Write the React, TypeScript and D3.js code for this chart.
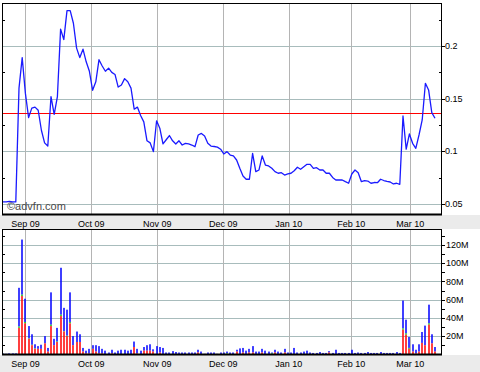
import React from "react";
import * as d3 from "d3";

// ---- Data ----
const monthLabels = ["Sep 09", "Oct 09", "Nov 09", "Dec 09", "Jan 10", "Feb 10", "Mar 10"];
const monthTickIdx = [7, 27.6, 48.2, 68.8, 89.3, 108.8, 127.3];

const priceTicks = [0.05, 0.1, 0.15, 0.2];
const priceTickLabels = ["0.05", "0.1", "0.15", "0.2"];
const priceMinorTicks = [0.075, 0.125, 0.175, 0.225];
const lastPrice = 0.1361;

const volTicks = [20, 40, 60, 80, 100, 120];
const volTickLabels = ["20M", "40M", "60M", "80M", "100M", "120M"];
const volMinorTicks = [10, 30, 50, 70, 90, 110, 130];

const prices = [
  0.052, 0.052, 0.0525, 0.052, 0.052, 0.160, 0.189, 0.155, 0.132, 0.141,
  0.142, 0.139, 0.120, 0.108, 0.105, 0.152, 0.135, 0.152, 0.216, 0.206,
  0.2336, 0.2336, 0.2216, 0.198, 0.189, 0.197, 0.185, 0.176, 0.158, 0.166,
  0.187, 0.181, 0.176, 0.179, 0.175, 0.173, 0.161, 0.163, 0.169, 0.166,
  0.160, 0.140, 0.142, 0.134, 0.128, 0.110, 0.108, 0.0997, 0.129, 0.122,
  0.107, 0.111, 0.115, 0.110, 0.107, 0.110, 0.106, 0.1076, 0.107, 0.106,
  0.1044, 0.1155, 0.117, 0.1146, 0.1076, 0.105, 0.1046, 0.104, 0.102, 0.0975,
  0.0997, 0.0965, 0.0956, 0.0918, 0.0839, 0.0766, 0.0735, 0.0735, 0.0981, 0.0807,
  0.0823, 0.0956, 0.0870, 0.0861, 0.0839, 0.0807, 0.0792, 0.0797, 0.0775, 0.0785,
  0.0792, 0.0816, 0.0849, 0.0830, 0.0854, 0.0877, 0.0877, 0.0839, 0.0845, 0.0823,
  0.0823, 0.0792, 0.0792, 0.0752, 0.0728, 0.0728, 0.0728, 0.0712, 0.0697, 0.0785,
  0.0823, 0.0797, 0.0712, 0.0721, 0.0718, 0.0697, 0.0704, 0.0702, 0.0735, 0.0723,
  0.0714, 0.0709, 0.0690, 0.0697, 0.0687, 0.1336, 0.102, 0.1165, 0.1076, 0.1029,
  0.1155, 0.1298, 0.1646, 0.1583, 0.1367, 0.1314,
];

// volume in millions
const volTotal = [
  1, 0.5, 1, 1, 1, 73, 126, 61, 31, 22,
  11, 9, 10.5, 20, 7, 68, 17, 29, 95, 51,
  49, 68, 20, 25, 22, 7, 4, 6, 10, 10,
  9, 6, 4, 2, 5, 2, 4, 5, 5, 4,
  5, 14, 6, 4, 8, 10, 11, 5.5, 9, 8,
  7, 2, 2, 3.5, 2.5, 2, 2, 2, 2, 2,
  2, 5, 3, 0.5, 2, 2, 2, 0.5, 2, 2,
  3, 2, 2, 5, 6.5, 7, 4, 6, 9, 3,
  3, 6, 4, 3, 2, 5, 3, 2, 6, 2,
  2, 7, 2, 2, 3, 4, 2, 1.5, 1.5, 2.5,
  1.5, 1.5, 3.5, 1.5, 5, 1.5, 1.5, 1.5, 1.5, 5,
  1.5, 2, 1.5, 1.5, 2.5, 1.5, 1.5, 1.5, 2.5, 1.5,
  1.5, 1.5, 1.5, 2.5, 1.5, 59, 38, 19, 11, 5,
  11, 24.5, 31.5, 54.5, 22, 8,
];
const volRed = [
  0, 0, 0, 0, 0, 29, 64, 34, 17, 10,
  6, 6, 6, 12, 3, 31, 10, 13.5, 42, 25,
  20, 34, 10, 13.5, 13.5, 3, 1, 1, 6, 3,
  1, 1, 0, 0, 1, 0, 0, 0, 0, 0,
  0, 8, 1, 0, 4, 4, 4, 3, 0, 2,
  0, 0, 0, 0, 0, 0, 0, 0, 0, 0,
  0, 2, 0, 0, 0, 0, 0, 0, 0, 0,
  0, 0, 0, 3, 0, 2, 0, 2, 2, 0,
  0, 2, 0, 0, 0, 2, 0, 0, 2, 0,
  0, 0, 0, 0, 0, 0, 0, 0, 0, 0,
  0, 0, 2, 0, 0, 0, 0, 0, 0, 0,
  0, 0, 0, 0, 0, 0, 0, 0, 0, 0,
  0, 0, 0, 0, 0, 27, 21.5, 6, 3, 1,
  3, 12.5, 10, 32.5, 12, 3,
];
const volGreen = [
  0.5, 0, 0, 0, 0, 1.5, 1.5, 1.5, 0.5, 0.5,
  0.5, 0, 0, 0, 0, 1.5, 0, 0.5, 1.5, 0.5,
  0.5, 1.5, 0, 0, 0, 0, 0, 0, 0, 0,
  0, 0, 0, 0, 0, 0, 0, 0, 0, 0,
  0, 0, 0, 0, 0, 0, 0, 0, 0, 0,
  0, 0, 0, 0, 0, 0, 0, 0, 0, 0,
  0, 0, 0, 0, 0, 0, 0, 0, 0, 0,
  1, 0, 0, 0, 0, 0, 0, 0, 0, 0,
  0, 0, 0, 0, 1, 0, 0, 0, 0, 0,
  0, 0, 0, 0, 0, 0, 0, 0, 0, 0,
  0, 0, 0, 0, 0, 0, 0, 0, 0, 0,
  0, 0, 0, 0, 0, 0, 0, 0, 0, 0,
  0, 0, 0, 0, 0, 1.5, 1.5, 1, 0, 0,
  0, 0, 0, 1.5, 0, 0,
];

// ---- Layout ----
const W = 480;
const H = 372;
const L = 2;
const R = 442;
const pTop = 3;
const pBot = 215;
const vTop = 229;
const vBot = 355;
const FONT = "'Liberation Sans', Arial, sans-serif";

export default function App() {
  const n = prices.length;
  const x = d3.scaleLinear().domain([0, n - 1]).range([3, 435]);
  const yP = d3.scaleLinear().domain([0.05, 0.2]).range([204, 46]);
  const yV = d3.scaleLinear().domain([0, 120]).range([354.3, 245]);

  const line = d3
    .line<number>()
    .x((_, i) => x(i))
    .y((d) => yP(d));

  const px = (v: number) => Math.round(v) + 0.5;

  const bars = volTotal.map((t, i) => {
    const r = volRed[i];
    const g = volGreen[i];
    return { i, r, g, t };
  });

  return (
    <div style={{ position: "fixed", left: 0, top: 0 }}>
      <svg width={W} height={H} style={{ display: "block" }}>
        <rect x={0} y={0} width={W} height={H} fill="#ffffff" />
        {/* label bands */}
        <rect x={0} y={pBot} width={W} height={vTop - pBot} fill="#ebebeb" />
        <rect x={0} y={vBot} width={W} height={H - vBot} fill="#ebebeb" />

        {/* ---- price panel ---- */}
        <rect x={L} y={pTop} width={R - L} height={pBot - pTop} fill="#ffffff" />
        {priceTicks.map((t) => (
          <line key={"pg" + t} x1={L} x2={R} y1={px(yP(t))} y2={px(yP(t))} stroke="#a8bcbc" strokeWidth={1} />
        ))}
        {monthTickIdx.map((m, k) => (
          <line key={"pv" + k} x1={px(x(m))} x2={px(x(m))} y1={pTop} y2={pBot} stroke="#b4b4b4" strokeWidth={1} />
        ))}
        {priceMinorTicks.map((t) => (
          <g key={"pm" + t}>
            <line x1={L} x2={L + 3} y1={px(yP(t))} y2={px(yP(t))} stroke="#000" />
            <line x1={R - 3} x2={R} y1={px(yP(t))} y2={px(yP(t))} stroke="#000" />
          </g>
        ))}
        <text x={7} y={210} fontFamily={FONT} fontSize={11} fill="#4a4a4a">
          ©advfn.com
        </text>
        <line x1={L} x2={R} y1={px(yP(lastPrice))} y2={px(yP(lastPrice))} stroke="#ff0000" strokeWidth={1} />
        <path d={line(prices) || ""} fill="none" stroke="#1a1aff" strokeWidth={1.3} strokeLinejoin="round" />
        <rect x={L + 0.5} y={pTop + 0.5} width={R - L - 1} height={pBot - pTop - 1} fill="none" stroke="#000" />
        <line x1={L} x2={R} y1={pBot - 0.5} y2={pBot - 0.5} stroke="#000" strokeWidth={2} />
        {priceTicks.map((t, k) => (
          <g key={"pl" + t}>
            <line x1={R} x2={R + 3} y1={px(yP(t))} y2={px(yP(t))} stroke="#000" />
            <text x={R + 3} y={yP(t)} dy="0.35em" fontFamily={FONT} fontSize={9} fill="#000">
              {priceTickLabels[k]}
            </text>
          </g>
        ))}

        {/* month labels between panels */}
        {monthTickIdx.map((m, k) => (
          <text key={"ml1" + k} x={x(m)} y={226.5} textAnchor="middle" fontFamily={FONT} fontSize={9} fill="#000">
            {monthLabels[k]}
          </text>
        ))}

        {/* ---- volume panel ---- */}
        <rect x={L} y={vTop} width={R - L} height={vBot - vTop} fill="#ffffff" />
        {volTicks.map((t) => (
          <line key={"vg" + t} x1={L} x2={R} y1={px(yV(t))} y2={px(yV(t))} stroke="#a8bcbc" strokeWidth={1} />
        ))}
        {monthTickIdx.map((m, k) => (
          <line key={"vv" + k} x1={px(x(m))} x2={px(x(m))} y1={vTop} y2={vBot} stroke="#b4b4b4" strokeWidth={1} />
        ))}
        {volMinorTicks.map((t) => (
          <g key={"vm" + t}>
            <line x1={L} x2={L + 3} y1={px(yV(t))} y2={px(yV(t))} stroke="#000" />
            <line x1={R} x2={R + 3} y1={px(yV(t))} y2={px(yV(t))} stroke="#000" />
          </g>
        ))}
        {bars.map((b) => {
          const cx = Math.round(x(b.i));
          const w = 1.5;
          const y0 = yV(0);
          const yr = yV(b.r);
          const yg = yV(b.r + b.g);
          const yt = yV(b.t);
          return (
            <g key={"b" + b.i}>
              <rect x={cx - w / 2} y={yt} width={w} height={Math.max(0, yg - yt)} fill="#0000ff" />
              {b.g > 0 && <rect x={cx - w / 2} y={yg} width={w} height={yr - yg} fill="#00cc00" />}
              {b.r > 0 && <rect x={cx - w / 2} y={yr} width={w} height={y0 - yr} fill="#ff0000" />}
            </g>
          );
        })}
        <rect x={L + 0.5} y={vTop + 0.5} width={R - L - 1} height={vBot - vTop - 1} fill="none" stroke="#000" />
        <line x1={L} x2={R} y1={vBot - 0.5} y2={vBot - 0.5} stroke="#000" strokeWidth={2} />
        {volTicks.map((t, k) => (
          <g key={"vl" + t}>
            <line x1={R} x2={R + 3} y1={px(yV(t))} y2={px(yV(t))} stroke="#000" />
            <text x={R + 4} y={yV(t)} dy="0.35em" fontFamily={FONT} fontSize={9} fill="#000">
              {volTickLabels[k]}
            </text>
          </g>
        ))}
        {monthTickIdx.map((m, k) => (
          <text key={"ml2" + k} x={x(m)} y={366.5} textAnchor="middle" fontFamily={FONT} fontSize={9} fill="#000">
            {monthLabels[k]}
          </text>
        ))}
      </svg>
    </div>
  );
}
